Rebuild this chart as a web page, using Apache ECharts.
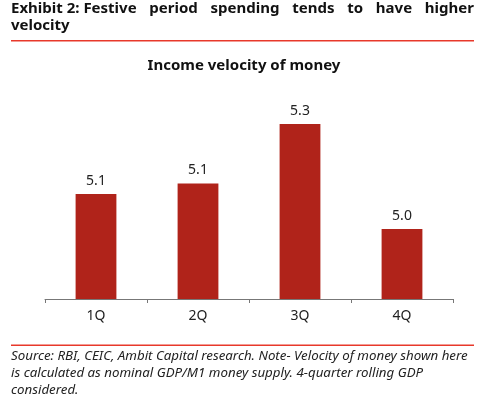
<!DOCTYPE html>
<html>
<head>
<meta charset="utf-8">
<script src="https://cdn.jsdelivr.net/npm/echarts@6/dist/echarts.min.js"></script>
<style>
  html, body { margin: 0; padding: 0; background: #fff; }
  #chart { width: 488px; height: 398px; }
</style>
</head>
<body>
<div id="chart"></div>
<script>
// data
const quarters = ['1Q', '2Q', '3Q', '4Q'];
const velocity = [5.10, 5.13, 5.30, 5.00];

const titleLine1 = ['Exhibit 2: Festive', 'period', 'spending', 'tends', 'to', 'have', 'higher'];
const titleLine2 = 'velocity';
const chartTitle = 'Income velocity of money';
const sourceLines = [
  'Source: RBI, CEIC, Ambit Capital research. Note- Velocity of money shown here',
  'is calculated as nominal GDP/M1 money supply. 4-quarter rolling GDP',
  'considered.'
];

const FONT = '"Noto Sans", "Open Sans", sans-serif';
const RED_RULE = '#e8392b';
const BAR_RED = '#b0231a';

// justify the first heading line between the two page margins
function justifiedWords(words, left, right, font) {
  const ctx = document.createElement('canvas').getContext('2d');
  ctx.font = font;
  const widths = words.map(w => ctx.measureText(w).width);
  const total = widths.reduce((a, b) => a + b, 0);
  const gap = (right - left - total) / (words.length - 1);
  let x = left;
  return words.map((w, i) => {
    const el = {
      type: 'text', left: x, top: 1,
      style: { text: w, font: font, fill: '#111' }
    };
    x += widths[i] + gap;
    return el;
  });
}

const headFont = 'bold 15px ' + FONT;
const headerEls = justifiedWords(titleLine1, 11, 474, headFont);

let chart = echarts.init(document.getElementById('chart'), null, {renderer: 'canvas'});
chart.setOption({
  animation: false,
  title: {
    text: chartTitle,
    left: 'center',
    top: 53,
    textStyle: { fontFamily: FONT, fontSize: 15, fontWeight: 'bold', color: '#111' }
  },
  grid: { left: 45, right: 35, top: 89, bottom: 99 },
  xAxis: {
    type: 'category',
    data: quarters,
    axisLine: { lineStyle: { color: '#777', width: 1 } },
    axisTick: { show: true, length: 4, lineStyle: { color: '#777' } },
    axisLabel: { fontFamily: FONT, fontSize: 14, color: '#222', margin: 10 }
  },
  yAxis: {
    type: 'value',
    min: 4.8,
    max: 5.4,
    show: false,
    splitLine: { show: false }
  },
  series: [
    {
      name: chartTitle,
      type: 'bar',
      data: velocity,
      barWidth: '40%',
      itemStyle: { color: BAR_RED },
      label: {
        show: true,
        position: 'top',
        distance: 6,
        fontFamily: FONT,
        fontSize: 14,
        color: '#222',
        formatter: p => p.value.toFixed(1)
      }
    }
  ],
  graphic: headerEls.concat([
    { type: 'text', left: 11, top: 18, style: { text: titleLine2, font: headFont, fill: '#111' } },
    { type: 'rect', shape: { x: 11, y: 40, width: 463, height: 1.5 }, style: { fill: RED_RULE } },
    { type: 'rect', shape: { x: 11, y: 344.5, width: 463, height: 1.5 }, style: { fill: RED_RULE } },
    {
      type: 'text', left: 11, top: 348,
      style: {
        text: sourceLines.join('\n'),
        font: 'italic 13.3px ' + FONT,
        lineHeight: 17,
        fill: '#222'
      }
    }
  ])
});
</script>
</body>
</html>
